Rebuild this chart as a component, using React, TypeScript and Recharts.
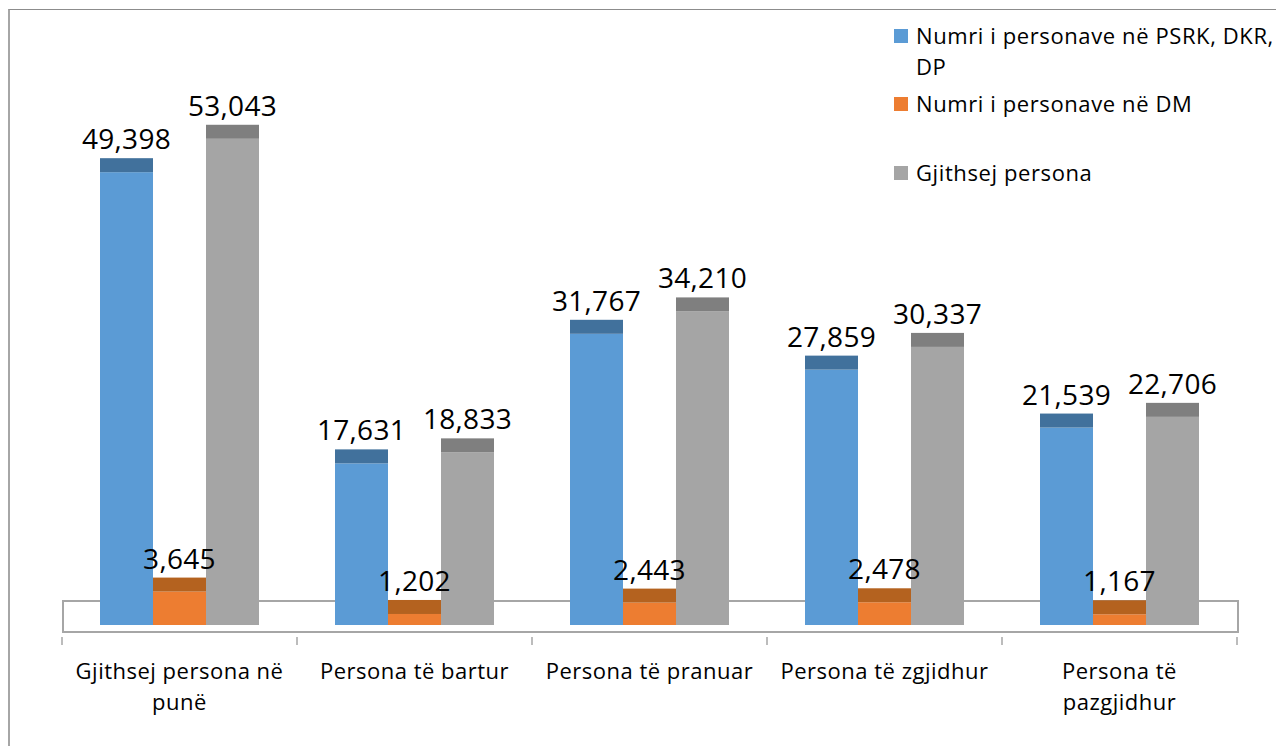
import React from 'react';
import { BarChart, Bar, XAxis, YAxis, LabelList, Legend, ReferenceArea } from 'recharts';

const categories = [
  ['Gjithsej persona në', 'punë'],
  ['Persona të bartur'],
  ['Persona të pranuar'],
  ['Persona të zgjidhur'],
  ['Persona të', 'pazgjidhur'],
];
const psrkValues = [49398, 17631, 31767, 27859, 21539];
const dmValues = [3645, 1202, 2443, 2478, 1167];
const totalValues = [53043, 18833, 34210, 30337, 22706];
const seriesNames = ['Numri i personave në PSRK, DKR, DP', 'Numri i personave në DM', 'Gjithsej persona'];
const legendLines = [['Numri i personave në PSRK, DKR,', 'DP'], ['Numri i personave në DM'], ['Gjithsej persona']];
const frontColors = ['#5b9bd5', '#ed7d31', '#a5a5a5'];
const capColors = ['#41719c', '#b4621f', '#7f7f7f'];

const data = categories.map((c, i) => ({
  name: c.join(' '),
  lines: c,
  psrk: psrkValues[i],
  dm: dmValues[i],
  total: totalValues[i],
}));

const FONT = '"Open Sans", sans-serif';
const CAP = 14;

const makeShape = (idx: number) => (props: any) => {
  const { x, y, width, height } = props;
  return (
    <g>
      <rect x={x} y={y} width={width} height={height} fill={frontColors[idx]} />
      <rect x={x} y={y - CAP} width={width} height={CAP} fill={capColors[idx]} />
    </g>
  );
};

const fmt = (v: number) => v.toLocaleString('en-US');

const ValueLabel = (props: any) => {
  const { x, y, width, value } = props;
  return (
    <text x={x + width / 2} y={y - CAP - 9} textAnchor="middle" fontFamily={FONT} fontSize={28} letterSpacing={0.3} fill="#000">
      {fmt(value)}
    </text>
  );
};

const BAND = 235;

const CategoryTick = (props: any) => {
  const { x, payload, index } = props;
  const lines: string[] = data[index] ? data[index].lines : [String(payload.value)];
  return (
    <g>
      <line x1={x - BAND / 2} x2={x - BAND / 2} y1={629} y2={637} stroke="#a6a6a6" strokeWidth={1.5} />
      {index === data.length - 1 && (
        <line x1={x + BAND / 2} x2={x + BAND / 2} y1={629} y2={637} stroke="#a6a6a6" strokeWidth={1.5} />
      )}
      {lines.map((l, i) => (
        <text key={i} x={x} y={671 + i * 31} textAnchor="middle" fontFamily={FONT} fontSize={22} letterSpacing={0.5} fill="#000">
          {l}
        </text>
      ))}
    </g>
  );
};

const LegendContent = () => {
  const tops = [21, 89, 158];
  return (
    <div style={{ position: 'relative', fontFamily: FONT, fontSize: 22, letterSpacing: 0.6, color: '#000' }}>
      {seriesNames.map((n, i) => (
        <div key={n} style={{ position: 'absolute', left: 886, top: tops[i], whiteSpace: 'nowrap' }}>
          <div style={{ position: 'absolute', left: 0, top: 0, width: 14, height: 14, background: frontColors[i] }} />
          {legendLines[i].map((l, j) => (
            <div key={j} style={{ position: 'absolute', left: 22, top: -9 + j * 31, lineHeight: '30px' }}>{l}</div>
          ))}
        </div>
      ))}
    </div>
  );
};

const FloorBox = (props: any) => {
  const { x, y, width, height } = props;
  return <rect x={x + 1} y={y} width={width} height={height + 7} fill="none" stroke="#a6a6a6" strokeWidth={2} />;
};

export default function App() {
  return (
    <div style={{ position: 'relative', width: 1276, height: 738 }}>
      <div
        style={{
          position: 'absolute', left: 0, top: 1, width: 1276, height: 737, boxSizing: 'border-box',
          borderTop: '1px solid #8c8c8c', borderLeft: '2px solid #a6a6a6',
        }}
      />
      <div style={{ position: 'absolute', left: 0, top: 0 }}>
        <BarChart
          width={1276}
          height={738}
          data={data}
          margin={{ top: 67, right: 47, left: 54, bottom: 21 }}
          barSize={53}
          barGap={0}
        >
          <XAxis dataKey="name" axisLine={false} tickLine={false} height={100} tick={<CategoryTick />} interval={0} />
          <YAxis hide domain={[0, 60000]} />
          <ReferenceArea y1={0} y2={2618} shape={<FloorBox />} ifOverflow="visible" />
          <Bar dataKey="psrk" name={seriesNames[0]} fill={frontColors[0]} shape={makeShape(0)} isAnimationActive={false}>
            <LabelList dataKey="psrk" content={<ValueLabel />} />
          </Bar>
          <Bar dataKey="dm" name={seriesNames[1]} fill={frontColors[1]} shape={makeShape(1)} isAnimationActive={false}>
            <LabelList dataKey="dm" content={<ValueLabel />} />
          </Bar>
          <Bar dataKey="total" name={seriesNames[2]} fill={frontColors[2]} shape={makeShape(2)} isAnimationActive={false}>
            <LabelList dataKey="total" content={<ValueLabel />} />
          </Bar>
          <Legend
            content={<LegendContent />}
            wrapperStyle={{ position: 'absolute', left: 0, top: 0, width: 0, height: 0, overflow: 'visible' }}
          />
        </BarChart>
      </div>
    </div>
  );
}
